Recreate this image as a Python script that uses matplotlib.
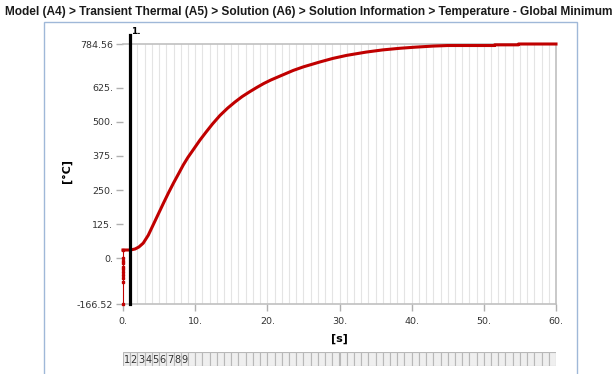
import numpy as np
import matplotlib
matplotlib.use("Agg")
import matplotlib.pyplot as plt
from matplotlib.patches import Rectangle

# minimum temperature history
t_start = [0, 0, 0, 0, 0, 0, 0, 0, 0, 0, 0]
v_start = [-166.52, -85, -72.5, -60.5, -48.4, -39.6, -30, -17.6, -8, 0.6, 31]
time = [0, 1.0, 1.66, 2.2, 2.8, 3.5, 4.2, 4.9, 5.6, 6.3, 7.0, 7.7, 8.35,
        9.0, 9.74, 10.66, 11.5, 12.4, 13.43, 14.5, 15.5, 16.5, 17.5, 18.5,
        19.5, 20.5, 22, 23.6, 25, 27.3, 29.1, 31, 33.7, 36, 38.4, 40.5, 43,
        45, 51.5, 51.5, 54.8, 54.8, 60]
temp = [31, 31, 34.6, 42, 56, 85, 124, 163, 202, 240, 276, 310, 342,
        370, 398, 433, 462, 492, 523, 550, 572, 592, 609, 625,
        640, 653, 670, 688, 701, 719, 732, 743, 755, 763, 769, 773, 777,
        779, 779, 781.5, 781.5, 784.56, 784.56]

yticks = [-166.52, 0, 125, 250, 375, 500, 625, 784.56]
ylabels = ['-166.52', '0.', '125.', '250.', '375.', '500.', '625.', '784.56']
xticks = [0, 10, 20, 30, 40, 50, 60]
xlabels = ['0.', '10.', '20.', '30.', '40.', '50.', '60.']
n_steps = 60
step_labels = [str(i) for i in range(1, 10)]
marker_time = 1.0

W, H = 614, 374
fig = plt.figure(figsize=(W / 100, H / 100), dpi=100)
plt.rcParams['font.family'] = ['DejaVu Sans']

# outer frame
fig.patches.append(Rectangle((44 / W, -0.1), (577 - 44) / W, 1.1 - 22 / H,
                             transform=fig.transFigure, fill=False,
                             edgecolor='#9fb8d8', lw=1.0))

fig.text(5 / W, 1 - 12 / H,
         'Model (A4) > Transient Thermal (A5) > Solution (A6) > Solution Information > Temperature - Global Minimum',
         fontsize=8.6, fontweight='bold', family='Liberation Sans',
         ha='left', va='center', color='#1a1a1a')

ax = fig.add_axes([123 / W, 1 - 304 / H, (556 - 123) / W, (304 - 44) / H])
ax.set_xlim(0, 60)
ax.set_ylim(-166.52, 784.56)

for x in range(1, 60):
    ax.axvline(x, color='#e4e4e4', lw=0.8, zorder=0)

ax.plot(t_start, v_start, color='#c00000', lw=0.8, marker='s', ms=1.8,
        zorder=3, clip_on=False)
ax.plot(time, temp, color='#c00000', lw=2.2, zorder=3, clip_on=False,
        solid_joinstyle='round')

ax.plot([marker_time, marker_time], [-166.52, 818], color='black', lw=2.3,
        zorder=4, clip_on=False)
ax.text(marker_time + 0.1, 832, '1.', fontsize=6.5, fontweight='bold',
        ha='left', va='center')

ax.spines['left'].set_visible(False)
for s in ['top', 'right', 'bottom']:
    ax.spines[s].set_color('#c0c0c0')
    ax.spines[s].set_linewidth(1.2)

ax.set_yticks(yticks)
ax.set_yticklabels(ylabels)
ax.set_xticks(xticks)
ax.set_xticklabels(xlabels)
ax.tick_params(axis='both', colors='#b0b0b0', labelcolor='#333333',
               labelsize=6.8, length=5, width=1)
ax.tick_params(axis='y', pad=2)
ax.tick_params(axis='x', pad=4)

ax.set_ylabel('[°C]', fontsize=8, fontweight='bold')
ax.yaxis.set_label_coords(-0.118, 0.51)
ax.set_xlabel('[s]', fontsize=8, fontweight='bold', labelpad=6)

# step strip
sx = fig.add_axes([123 / W, 1 - 366 / H, (556 - 123) / W, 14 / H])
sx.set_xlim(0, n_steps)
sx.set_ylim(0, 1)
sx.axis('off')
for i in range(n_steps):
    sx.add_patch(Rectangle((i, 0), 1, 1, facecolor='#efefef',
                           edgecolor='#b8b8b8', lw=0.8))
for i, lab in enumerate(step_labels):
    sx.text(i + 0.5, 0.45, lab, fontsize=7, ha='center', va='center',
            color='#333333')

fig.savefig('out.png', dpi=100)
